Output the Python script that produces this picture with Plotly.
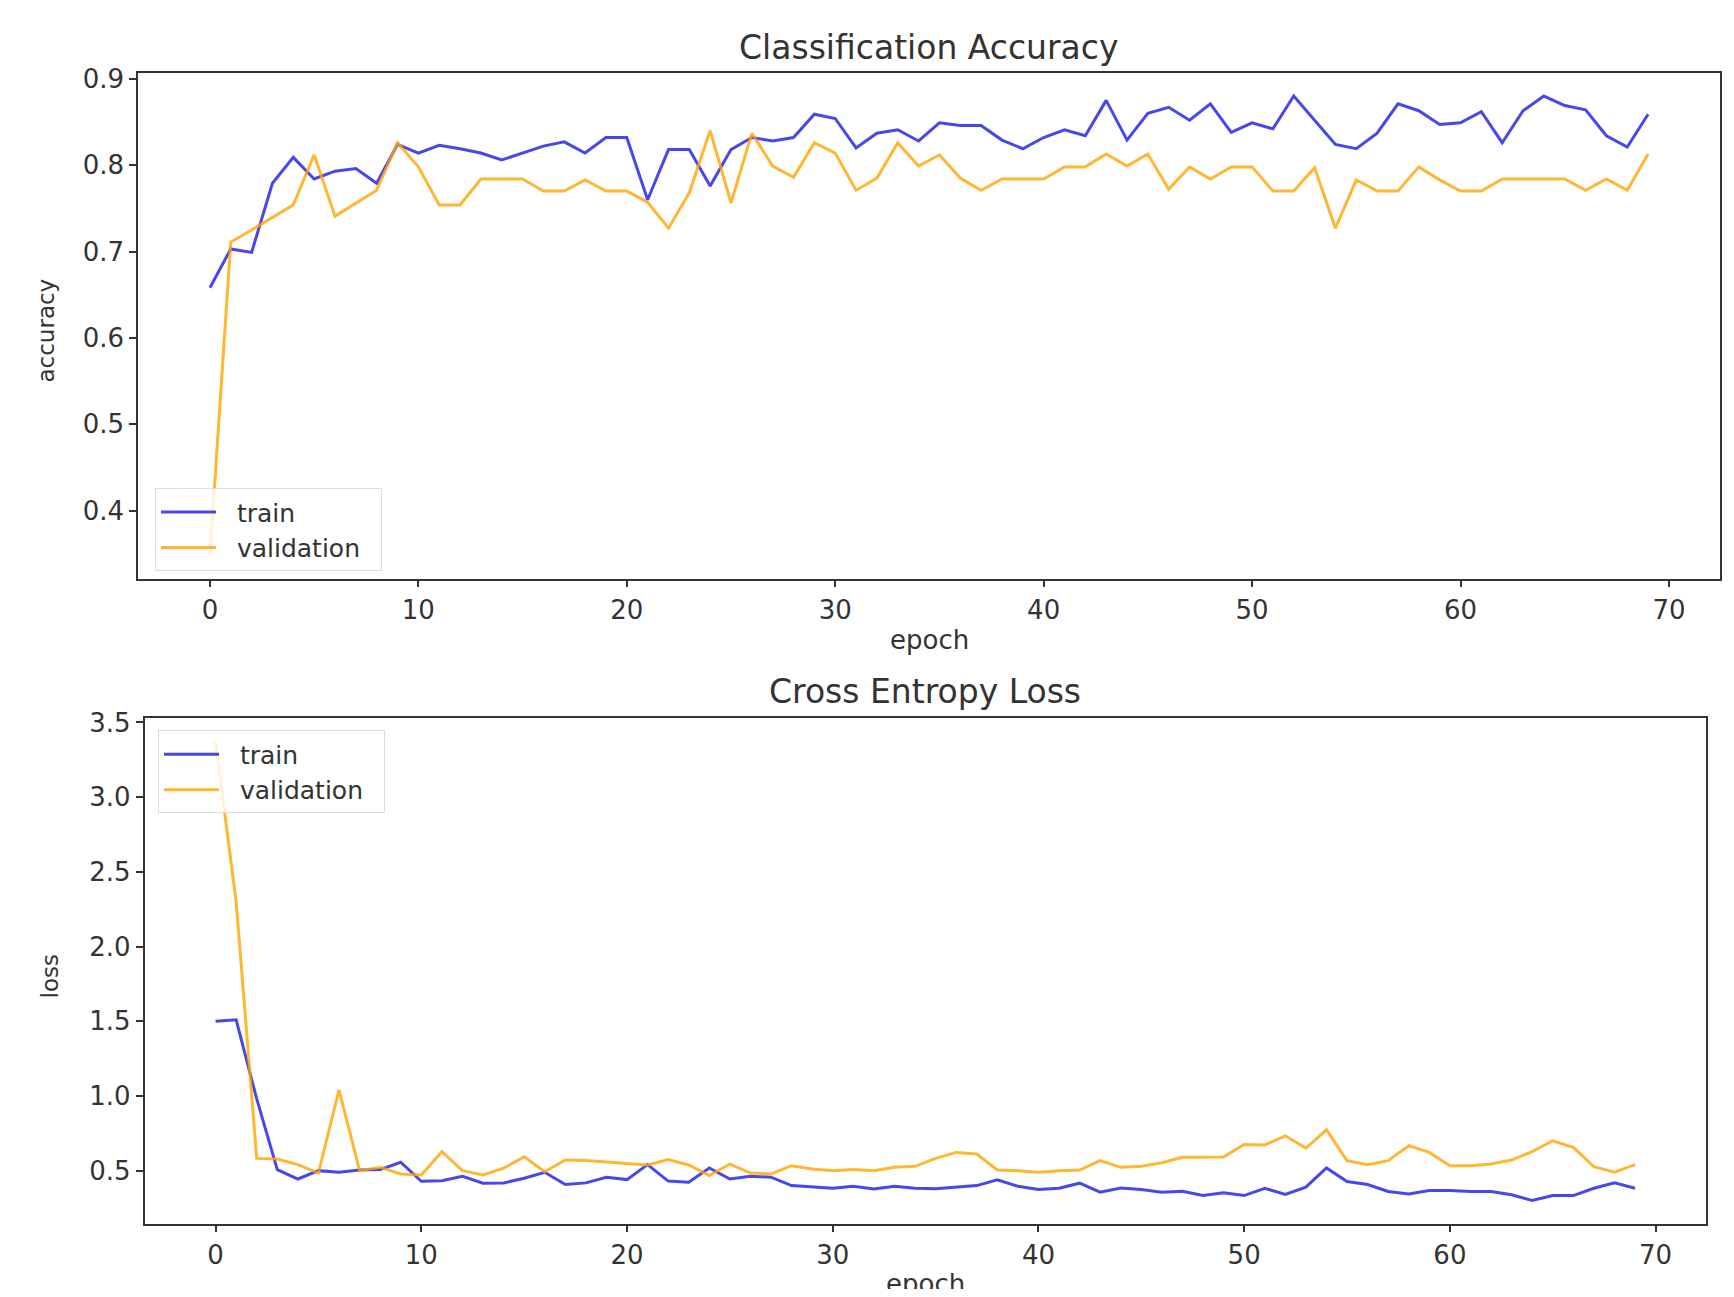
import plotly.graph_objects as go

epochs = list(range(70))

acc_train = [0.658, 0.703, 0.699, 0.779, 0.809, 0.784, 0.793, 0.796, 0.779, 0.824,
             0.814, 0.823, 0.819, 0.814, 0.806, 0.814, 0.822, 0.827, 0.814, 0.832,
             0.832, 0.760, 0.818, 0.818, 0.776, 0.818, 0.832, 0.828, 0.832, 0.859,
             0.854, 0.820, 0.837, 0.841, 0.828, 0.849, 0.846, 0.846, 0.829, 0.819,
             0.832, 0.841, 0.834, 0.875, 0.829, 0.860, 0.867, 0.852, 0.871, 0.838,
             0.849, 0.842, 0.880, 0.852, 0.824, 0.819, 0.837, 0.871, 0.863, 0.847,
             0.849, 0.862, 0.826, 0.863, 0.880, 0.869, 0.864, 0.834, 0.821, 0.859]

acc_val = [0.348, 0.711, 0.725, 0.740, 0.754, 0.812, 0.741, 0.756, 0.771, 0.826,
           0.798, 0.754, 0.754, 0.784, 0.784, 0.784, 0.770, 0.770, 0.783, 0.770,
           0.770, 0.757, 0.727, 0.768, 0.840, 0.756, 0.837, 0.799, 0.786, 0.826,
           0.814, 0.771, 0.785, 0.826, 0.799, 0.812, 0.785, 0.771, 0.784, 0.784,
           0.784, 0.798, 0.798, 0.813, 0.799, 0.813, 0.772, 0.798, 0.784, 0.798,
           0.798, 0.770, 0.770, 0.797, 0.727, 0.783, 0.770, 0.770, 0.798, 0.783,
           0.770, 0.770, 0.784, 0.784, 0.784, 0.784, 0.771, 0.784, 0.771, 0.813]

loss_train = [1.50, 1.51, 0.98, 0.507, 0.444, 0.500, 0.489, 0.504, 0.507, 0.556,
              0.429, 0.433, 0.462, 0.416, 0.418, 0.449, 0.489, 0.407, 0.418, 0.456,
              0.440, 0.540, 0.430, 0.422, 0.518, 0.444, 0.462, 0.456, 0.400, 0.389,
              0.382, 0.396, 0.378, 0.396, 0.382, 0.378, 0.389, 0.400, 0.438, 0.396,
              0.373, 0.382, 0.416, 0.356, 0.384, 0.373, 0.356, 0.362, 0.333, 0.352,
              0.333, 0.382, 0.340, 0.389, 0.518, 0.427, 0.407, 0.360, 0.344, 0.367,
              0.367, 0.360, 0.360, 0.338, 0.300, 0.333, 0.333, 0.382, 0.418, 0.382]

loss_val = [3.37, 2.30, 0.582, 0.578, 0.540, 0.484, 1.04, 0.500, 0.522, 0.478,
            0.471, 0.627, 0.500, 0.471, 0.516, 0.593, 0.493, 0.571, 0.567, 0.556,
            0.544, 0.538, 0.575, 0.538, 0.467, 0.544, 0.484, 0.478, 0.533, 0.511,
            0.500, 0.507, 0.500, 0.522, 0.529, 0.582, 0.622, 0.611, 0.504, 0.500,
            0.489, 0.500, 0.504, 0.567, 0.522, 0.529, 0.553, 0.589, 0.589, 0.592,
            0.675, 0.671, 0.733, 0.651, 0.773, 0.567, 0.540, 0.567, 0.667, 0.622,
            0.533, 0.533, 0.544, 0.571, 0.627, 0.700, 0.656, 0.527, 0.489, 0.540]

x_ticks = [0, 10, 20, 30, 40, 50, 60, 70]
acc_ticks = [0.4, 0.5, 0.6, 0.7, 0.8, 0.9]
loss_ticks = [0.5, 1.0, 1.5, 2.0, 2.5, 3.0, 3.5]

# figure size leaves room for the page's default 8px body margin
FW, FH = 1718, 1281
OX, OY = 8, 10
FONT = "DejaVu Sans"
TXT = "#333333"
BLUE = "rgba(25,25,230,0.8)"
ORANGE = "rgba(255,165,0,0.8)"
LW = 3
SP = "\u00a0\u00a0"

fig = go.Figure()
fig.add_trace(go.Scatter(x=epochs, y=acc_train, mode="lines", name=SP + "train",
                         line=dict(color=BLUE, width=LW), xaxis="x", yaxis="y", legend="legend"))
fig.add_trace(go.Scatter(x=epochs, y=acc_val, mode="lines", name=SP + "validation" + SP,
                         line=dict(color=ORANGE, width=LW), xaxis="x", yaxis="y", legend="legend"))
fig.add_trace(go.Scatter(x=epochs, y=loss_train, mode="lines", name=SP + "train",
                         line=dict(color=BLUE, width=LW), xaxis="x2", yaxis="y2", legend="legend2"))
fig.add_trace(go.Scatter(x=epochs, y=loss_val, mode="lines", name=SP + "validation" + SP,
                         line=dict(color=ORANGE, width=LW), xaxis="x2", yaxis="y2", legend="legend2"))

common = dict(showline=True, linecolor="#333333", linewidth=1.6, mirror=True,
              ticks="outside", ticklen=7, tickwidth=1.5, tickcolor="#333333",
              showgrid=False, zeroline=False,
              tickfont=dict(family=FONT, size=26, color=TXT))


def px_x(p):
    return (p - OX) / FW


def px_y(p):
    return 1 - (p - OY) / FH


acc_l, acc_r, acc_t, acc_b = 138, 1720, 65.5, 575
los_l, los_r, los_t, los_b = 144.6, 1706, 715.5, 1225

leg_common = dict(xanchor="left", yanchor="top",
                  bgcolor="rgba(255,255,255,0.8)", bordercolor="#dddddd", borderwidth=1,
                  font=dict(family=FONT, size=25, color=TXT), tracegroupgap=0,
                  itemwidth=55)

fig.update_layout(
    width=FW, height=FH,
    margin=dict(l=0, r=0, t=0, b=0),
    paper_bgcolor="white", plot_bgcolor="white",
    font=dict(family=FONT, color=TXT),
    xaxis=dict(domain=[px_x(acc_l), px_x(acc_r)], range=[-3.45, 72.45],
               tickvals=x_ticks, anchor="y", **common),
    yaxis=dict(domain=[px_y(acc_b), px_y(acc_t)], range=[0.3214, 0.9066],
               tickvals=acc_ticks, tickformat=".1f", anchor="x", **common),
    xaxis2=dict(domain=[px_x(los_l), px_x(los_r)], range=[-3.45, 72.45],
                tickvals=x_ticks, anchor="y2", **common),
    yaxis2=dict(domain=[px_y(los_b), px_y(los_t)], range=[0.146, 3.53],
                tickvals=loss_ticks, tickformat=".1f", anchor="x2", **common),
    legend=dict(x=px_x(155), y=px_y(484), **leg_common),
    legend2=dict(x=px_x(158), y=px_y(728), **leg_common),
    showlegend=True,
)

annots = [
    dict(text="Classification Accuracy", x=px_x((acc_l + acc_r) / 2), y=px_y(40),
         font=dict(size=33)),
    dict(text="Cross Entropy Loss", x=px_x((los_l + los_r) / 2), y=px_y(689),
         font=dict(size=33)),
    dict(text="epoch", x=px_x((acc_l + acc_r) / 2), y=px_y(637), font=dict(size=26)),
    dict(text="epoch", x=px_x((los_l + los_r) / 2), y=px_y(1286), font=dict(size=26)),
    dict(text="accuracy", x=px_x(46), y=px_y(325), textangle=-90, font=dict(size=23)),
    dict(text="loss", x=px_x(50), y=px_y(976), textangle=-90, font=dict(size=23)),
]
for a in annots:
    a.update(xref="paper", yref="paper", showarrow=False, xanchor="center", yanchor="middle")
    a["font"].update(family=FONT, color=TXT)
    fig.add_annotation(**a)

fig.write_html("out.html")
